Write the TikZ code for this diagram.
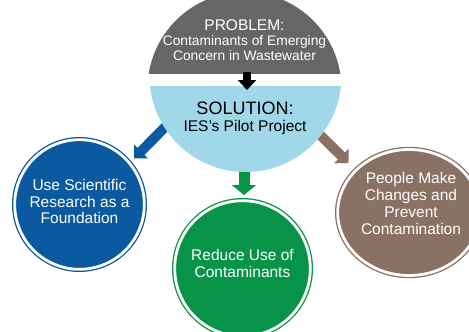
\documentclass[tikz,border=0pt]{standalone}
\usepackage{fontspec}
\setmainfont{Liberation Sans}
\usetikzlibrary{arrows.meta,shapes.geometric}

\definecolor{probgray}{RGB}{102,102,102}
\definecolor{solblue}{RGB}{160,216,234}
\definecolor{resblue}{RGB}{11,90,161}
\definecolor{redgreen}{RGB}{7,148,73}
\definecolor{pplbrown}{RGB}{137,113,100}

\begin{document}
\begin{tikzpicture}[x=1pt,y=-1pt,
		ring/.style={fill=#1,draw=#1,double=white,double distance=2.8pt,line width=1.3pt,inner sep=0pt},
		circtext/.style={text=white,align=center,font=\fontsize{15.5}{16.7}\selectfont},
		tip/.style={-{Triangle[width=#1,length=10pt]}}]
		\useasboundingbox (0,0) rectangle (469,332);

		% arrow ends
		\coordinate (leftfrom) at (172,120);
		\coordinate (leftto) at (134,158.5);
		\coordinate (rightfrom) at (316,131);
		\coordinate (rightto) at (348.5,163);
		\coordinate (downfrom) at (244,170);
		\coordinate (downto) at (244,195);
		\coordinate (topfrom) at (247,72);
		\coordinate (topto) at (247,90);

		\draw[resblue,line width=10pt,tip=19pt] (leftfrom) -- (leftto);
		\draw[pplbrown,line width=10pt,tip=20pt] (rightfrom) -- (rightto);
		\draw[redgreen,line width=11pt,tip=24pt] (downfrom) -- (downto);

		% the two halves on top
		\begin{scope}
			\clip (0,0) rectangle (469,73);
			\fill[probgray] (244.5,89) circle[radius=97pt];
		\end{scope}
		\begin{scope}
			\clip (0,86) rectangle (469,332);
			\fill[solblue] (245.5,76) circle[radius=96pt];
		\end{scope}
		\draw[black,line width=8pt,tip=18pt] (topfrom) -- (topto);

		\node[align=center,text=white,font=\fontsize{13.8}{15}\selectfont] (problem) at (244.5,40)
			{\fontsize{15.5}{16}\selectfont PROBLEM:\\
			\fontsize{13.8}{15}\selectfont Contaminants of Emerging\\Concern in Wastewater};
		\node[align=center,font=\fontsize{15.5}{17}\selectfont] (solution) at (245,118.5)
			{\fontsize{18}{18}\selectfont SOLUTION:\\
			\fontsize{15.5}{17}\selectfont IES’s Pilot Project};

		% the three circles
		\node[ring=resblue,circle,minimum size=129.6pt] (research) at (79.5,204.5) {};
		\node[ring=redgreen,circle,minimum size=135.6pt] (reduce) at (242.5,268.5) {};
		\node[ring=pplbrown,ellipse,minimum width=142.6pt,minimum height=126pt] (people) at (409,212.5) {};

		\node[circtext] (researchtext) at ([yshift=3pt]research.center) {Use Scientific\\Research as a\\Foundation};
		\node[circtext] (reducetext) at ([yshift=5pt]reduce.center) {Reduce Use of\\Contaminants};
		\node[circtext] (peopletext) at ([yshift=9pt,xshift=2pt]people.center) {People Make\\Changes and\\Prevent\\Contamination};
	\end{tikzpicture}
\end{document}
